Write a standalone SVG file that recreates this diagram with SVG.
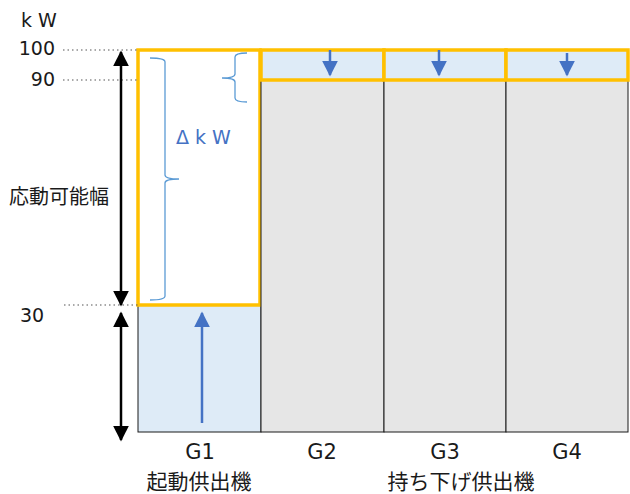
<svg xmlns="http://www.w3.org/2000/svg" width="630" height="494" viewBox="0 0 630 494">
<defs>
<marker id="bk2" viewBox="0 0 10 10" refX="9" refY="5" markerWidth="16" markerHeight="16" markerUnits="userSpaceOnUse" orient="auto-start-reverse"><path d="M0,0 L10,5 L0,10 z" fill="#000"/></marker>
<marker id="bl2" viewBox="0 0 10 10" refX="9" refY="5" markerWidth="16" markerHeight="16" markerUnits="userSpaceOnUse" orient="auto"><path d="M0,0 L10,5 L0,10 z" fill="#4472C4"/></marker>
</defs>
<style>
text{font-family:"DejaVu Sans","Noto Sans CJK JP",sans-serif;fill:#1a1a1a}
.jp{font-family:"Noto Sans CJK JP",sans-serif}
.n{font-size:19px}
.lbl{font-size:21px;text-anchor:middle}
.col{fill:#E6E6E6;stroke:#1a1a1a;stroke-width:1}
.lb{fill:#DEEBF7;stroke:#1a1a1a;stroke-width:1}
.or{fill:none;stroke:#FFC000;stroke-width:3.5}
.dot{stroke:#555;stroke-width:1.2;stroke-dasharray:1.5 3}
.brace{fill:none;stroke:#5B9BD5;stroke-width:1.3}
.ba{stroke:#4472C4;stroke-width:2.5}
.ka{stroke:#000;stroke-width:2.5}
</style>
<g id="G1">
<rect class="lb" x="138" y="305" width="123" height="127"/>
<rect x="138" y="50" width="122" height="255" fill="#fff" class="or"/>
<text class="lbl" x="200" y="459">G1</text>
<text class="lbl jp" x="199" y="489">起動供出機</text>
</g>
<g id="G2">
<rect class="col" x="261" y="80" width="123" height="352"/>
<rect class="lb" x="261" y="50" width="123" height="30" stroke="none"/>
<rect class="or" x="261" y="50" width="123" height="30"/>
<text class="lbl" x="322" y="459">G2</text>
</g>
<g id="G3">
<rect class="col" x="384" y="80" width="122" height="352"/>
<rect class="lb" x="384" y="50" width="122" height="30" stroke="none"/>
<rect class="or" x="384" y="50" width="122" height="30"/>
<text class="lbl" x="445" y="459">G3</text>
</g>
<g id="G4">
<rect class="col" x="506" y="80" width="122" height="352"/>
<rect class="lb" x="506" y="50" width="122" height="30" stroke="none"/>
<rect class="or" x="506" y="50" width="122" height="30"/>
<text class="lbl" x="567" y="459">G4</text>
</g>
<text class="lbl jp" x="461" y="489">持ち下げ供出機</text>
<g id="axis">
<text class="n" x="21" y="27">k W</text>
<text class="n" x="55" y="55" text-anchor="end">100</text>
<text class="n" x="55" y="86" text-anchor="end">90</text>
<text class="n" x="20" y="322">30</text>
<text class="jp" x="9" y="204" style="font-size:20px">応動可能幅</text>
<line class="dot" x1="63" y1="50" x2="138" y2="50"/>
<line class="dot" x1="63" y1="80" x2="138" y2="80"/>
<line class="dot" x1="64" y1="305" x2="138" y2="305"/>
</g>
<g id="connectors">
<line class="ka" x1="121" y1="52" x2="121" y2="305" marker-start="url(#bk2)" marker-end="url(#bk2)"/>
<line class="ka" x1="121" y1="313" x2="121" y2="440" marker-start="url(#bk2)" marker-end="url(#bk2)"/>
<line class="ba" x1="202" y1="423" x2="202" y2="313" marker-end="url(#bl2)"/>
<line class="ba" x1="330" y1="50" x2="330" y2="75" marker-end="url(#bl2)"/>
<line class="ba" x1="439" y1="50" x2="439" y2="75" marker-end="url(#bl2)"/>
<line class="ba" x1="567" y1="53" x2="567" y2="75" marker-end="url(#bl2)"/>
</g>
<g id="braces">
<path class="brace" d="M150,58 Q165,58 165,62 L165,175 Q165,179 179,179 Q165,179 165,183 L165,296 Q165,300 150,300"/>
<path class="brace" d="M247,53 Q235,53 235,57 L235,74 Q235,78 222,78 Q235,78 235,82 L235,98 Q235,102 247,102"/>
<text x="176" y="144" style="font-size:19px;fill:#4472C4">Δ k W</text>
</g>
</svg>
